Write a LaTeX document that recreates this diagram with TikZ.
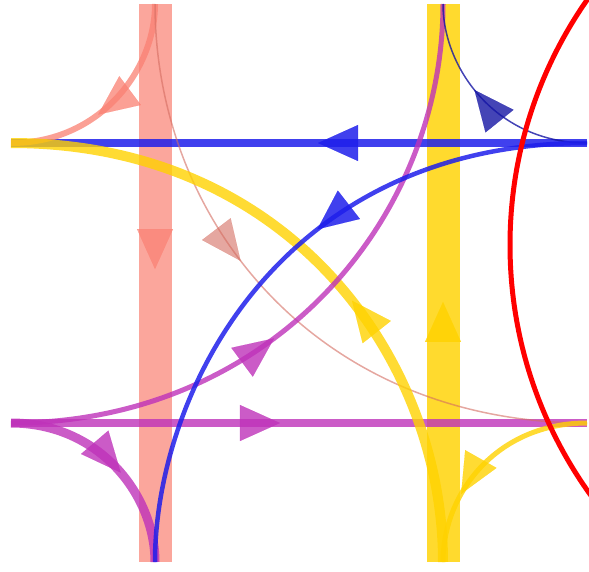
\documentclass[tikz,border=0pt]{standalone}
\usepackage{tikz}
\usetikzlibrary{arrows.meta,decorations.markings}

\definecolor{salmonc}{RGB}{250,128,114}
\definecolor{goldc}{RGB}{255,210,0}
\definecolor{bluec}{RGB}{30,30,235}
\definecolor{orchidc}{RGB}{190,50,185}

\tikzset{
  flow/.style={postaction={decorate},
    decoration={markings, mark=at position #1 with {\arrow{Triangle[width=36pt,length=40pt,line width=0.1pt]}}}},
}

\begin{document}
\begin{tikzpicture}[x=1pt,y=-1pt,line cap=butt]
\useasboundingbox (0,0) rectangle (589,571);
\clip (0,0) rectangle (589,571);
\coordinate (L1) at (11,143);
\coordinate (R1) at (587,143);
\coordinate (L2) at (11,423);
\coordinate (R2) at (587,423);
\coordinate (T1) at (155,4);
\coordinate (B1) at (155,562);
\coordinate (T2) at (443,4);
\coordinate (B2) at (443,562);

\draw[salmonc,opacity=0.7,line width=33pt,flow=0.475] (T1) -- (B1);
\draw[goldc,opacity=0.82,line width=33pt,flow=0.466] (B2) -- (T2);
\draw[bluec,opacity=0.85,line width=8pt,flow=0.467] (R1) -- (L1);
\draw[orchidc,opacity=0.8,line width=8pt,flow=0.467] (L2) -- (R2);

\draw[salmonc,opacity=0.75,line width=6pt,flow=0.58] (T1) .. controls +(0,66) and +(89,0) .. (L1);
\draw[salmonc!85!black,opacity=0.6,line width=1.5pt,flow=0.41] (T1) .. controls +(0,220) and +(-267,0) .. (R2);
\draw[goldc,opacity=0.8,line width=10pt,flow=0.42] (B2) .. controls +(0,-202) and +(279,0) .. (L1);
\draw[goldc,opacity=0.8,line width=5pt,flow=0.68] (R2) .. controls +(-89,0) and +(0,-70) .. (B2);
\draw[orchidc,opacity=0.8,line width=9pt,flow=0.56] (L2) .. controls +(89,0) and +(0,-66) .. (B1);
\draw[orchidc,opacity=0.8,line width=5pt,flow=0.42] (L2) .. controls +(259,0) and +(0,216) .. (T2);
\draw[bluec!70!black,opacity=0.8,line width=1.5pt,flow=0.58] (R1) .. controls +(-89,0) and +(0,66) .. (T2);
\draw[bluec,opacity=0.85,line width=4.5pt,flow=0.43] (R1) .. controls +(-309,0) and +(0,-167) .. (B1);

\draw[red,line width=5pt] (938,245) circle (428);
\end{tikzpicture}
\end{document}
